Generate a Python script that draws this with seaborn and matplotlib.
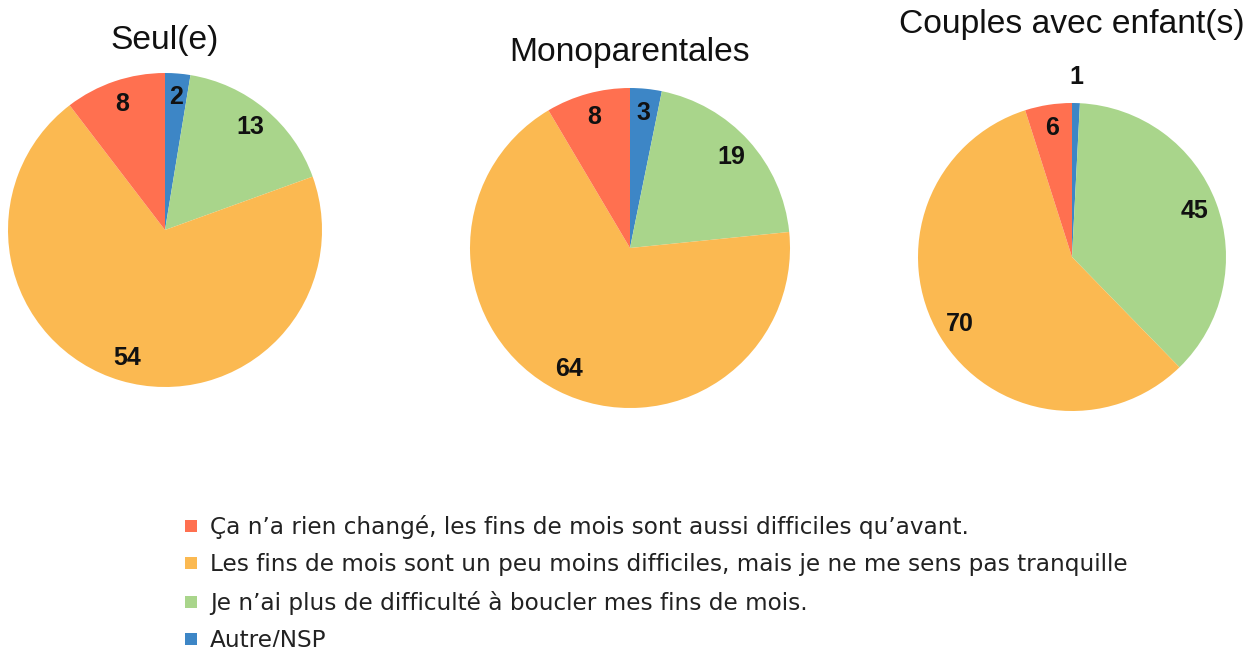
import numpy as np
import matplotlib
matplotlib.use("Agg")
import matplotlib.pyplot as plt
import seaborn as sns
from matplotlib.lines import Line2D

sns.set_theme(style="white")
plt.rcParams['font.family'] = ['Liberation Sans', 'DejaVu Sans']

groups = ["Seul(e)", "Monoparentales", "Couples avec enfant(s)"]
categories = ["Autre/NSP",
              "Je n’ai plus de difficulté à boucler mes fins de mois.",
              "Les fins de mois sont un peu moins difficiles, mais je ne me sens pas tranquille",
              "Ça n’a rien changé, les fins de mois sont aussi difficiles qu’avant."]
seul = [2, 13, 54, 8]
mono = [3, 19, 64, 8]
couples = [1, 45, 70, 6]
values = [seul, mono, couples]
colors = ["#3d86c6", "#a9d58b", "#fbb951", "#ff7050"]

W, H = 1246, 647
fig = plt.figure(figsize=(W / 100, H / 100), dpi=100)

# center x, center y (pixels from top), radius, title y
layout = [(165, 230, 157, 41), (630, 248, 160, 52), (1072, 257, 154, 25)]

for vals, name, (cx, cy, r, ty) in zip(values, groups, layout):
    ax = fig.add_axes([(cx - r) / W, (H - cy - r) / H, 2 * r / W, 2 * r / H])
    wedges, _ = ax.pie(vals, colors=colors, startangle=90, counterclock=False,
                       radius=1, wedgeprops=dict(linewidth=0))
    total = sum(vals)
    for w, v in zip(wedges, vals):
        ang = np.deg2rad((w.theta1 + w.theta2) / 2)
        d = 0.85 if v / total > 0.015 else 1.17
        ax.text(d * np.cos(ang), d * np.sin(ang), str(v), ha="center", va="center",
                fontsize=18, fontweight="bold", color="#111111")
    ax.set_xlim(-1, 1)
    ax.set_ylim(-1, 1)
    ax.set_aspect("equal")
    ax.axis("off")
    fig.text(cx / W, 1 - ty / H, name, ha="center", va="center", fontsize=24.2,
             color="#111111")

legend_order = [3, 2, 1, 0]
handles = [Line2D([0], [0], marker="s", linestyle="none", markersize=8,
                  markerfacecolor=colors[i], markeredgewidth=0) for i in legend_order]
labels = [categories[i] for i in legend_order]
fig.legend(handles, labels, loc="upper left", bbox_to_anchor=(182.6 / W, 1 - 515 / H),
           frameon=False, handlelength=0.7, handletextpad=0.48,
           labelspacing=0.62, labelcolor="#222222", borderaxespad=0, borderpad=0,
           prop=dict(family="DejaVu Sans", size=16.7))

fig.savefig("out.png", dpi=100)
